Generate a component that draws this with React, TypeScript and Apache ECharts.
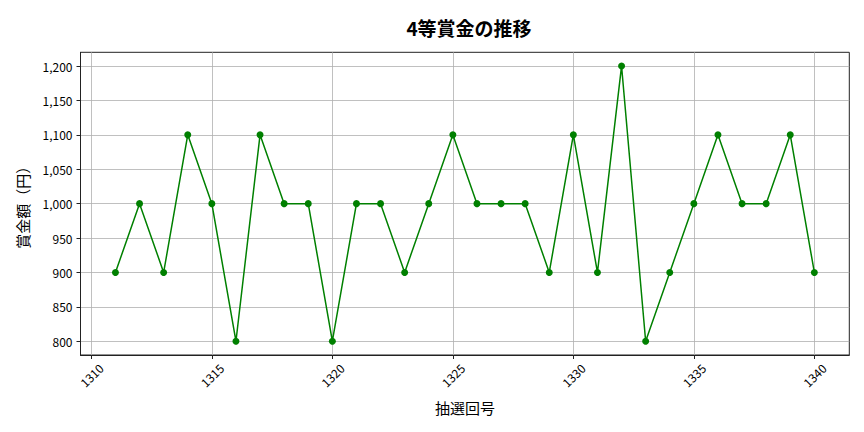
import React, { useEffect, useRef } from 'react';
import * as echarts from 'echarts';

const rounds = [
  1311, 1312, 1313, 1314, 1315, 1316, 1317, 1318, 1319, 1320,
  1321, 1322, 1323, 1324, 1325, 1326, 1327, 1328, 1329, 1330,
  1331, 1332, 1333, 1334, 1335, 1336, 1337, 1338, 1339, 1340,
];
const prizes = [
  900, 1000, 900, 1100, 1000, 800, 1100, 1000, 1000, 800,
  1000, 1000, 900, 1000, 1100, 1000, 1000, 1000, 900, 1100,
  900, 1200, 800, 900, 1000, 1100, 1000, 1000, 1100, 900,
];
const xTicks = [1310, 1315, 1320, 1325, 1330, 1335, 1340];
const yTicks = [800, 850, 900, 950, 1000, 1050, 1100, 1150, 1200];

const FONT = '"Noto Sans CJK JP", "Noto Sans", sans-serif';

const App: React.FC = () => {
  const chartRef = useRef<HTMLDivElement>(null);

  useEffect(() => {
    if (!chartRef.current) return;
    const chart = echarts.init(chartRef.current, undefined, { renderer: 'svg' });

    // matplotlib-like 5% margins around the data
    const xSpan = rounds[rounds.length - 1] - rounds[0];
    const yMinV = Math.min(...prizes);
    const yMaxV = Math.max(...prizes);
    const ySpan = yMaxV - yMinV;

    const option: echarts.EChartsOption = {
      animation: false,
      backgroundColor: '#ffffff',
      textStyle: { fontFamily: FONT },
      title: {
        text: '4等賞金の推移',
        left: 464,
        top: 13,
        textAlign: 'center',
        textStyle: { fontSize: 19, fontWeight: 'bold', color: '#000', fontFamily: FONT },
      },
      grid: {
        left: 80.5,
        right: 14.7,
        top: 52.3,
        bottom: 77,
        show: true,
        borderColor: '#222',
        borderWidth: 1,
        backgroundColor: 'transparent',
      },
      xAxis: {
        type: 'value',
        min: rounds[0] - xSpan * 0.05,
        max: rounds[rounds.length - 1] + xSpan * 0.05,
        name: '抽選回号',
        nameLocation: 'middle',
        nameGap: 45,
        nameTextStyle: { fontSize: 15, color: '#000', fontFamily: FONT },
        axisLine: { show: true, lineStyle: { color: '#222', width: 1 } },
        axisTick: {
          show: true,
          length: 4,
          lineStyle: { color: '#222' },
          customValues: xTicks,
        },
        axisLabel: {
          customValues: xTicks,
          rotate: 45,
          align: 'center',
          verticalAlign: 'middle',
          margin: 20,
          fontSize: 12,
          color: '#000',
          fontFamily: FONT,
          formatter: (v: number) => String(v),
        },
        splitLine: { show: true, lineStyle: { color: '#b0b0b0', width: 0.8 } },
      },
      yAxis: {
        type: 'value',
        min: yMinV - ySpan * 0.05,
        max: yMaxV + ySpan * 0.05,
        name: '賞金額（円）',
        nameLocation: 'middle',
        nameGap: 51,
        nameTextStyle: { fontSize: 15, color: '#000', fontFamily: FONT },
        axisLine: { show: true, lineStyle: { color: '#222', width: 1 } },
        axisTick: {
          show: true,
          length: 4,
          lineStyle: { color: '#222' },
          customValues: yTicks,
        },
        axisLabel: {
          customValues: yTicks,
          margin: 8,
          fontSize: 12,
          color: '#000',
          fontFamily: FONT,
          formatter: (v: number) => v.toLocaleString('en-US'),
        },
        splitLine: { show: true, lineStyle: { color: '#b0b0b0', width: 0.8 } },
      },
      series: [
        {
          type: 'line',
          data: rounds.map((r, i) => [r, prizes[i]]),
          symbol: 'circle',
          symbolSize: 7,
          showAllSymbol: true,
          lineStyle: { color: '#008000', width: 1.5 },
          itemStyle: { color: '#008000' },
        },
      ],
    };

    chart.setOption(option);

    const handleResize = () => chart.resize();
    window.addEventListener('resize', handleResize);
    return () => {
      window.removeEventListener('resize', handleResize);
      chart.dispose();
    };
  }, []);

  return (
    <div
      ref={chartRef}
      style={{ position: 'fixed', left: 0, top: 0, width: '864px', height: '432px' }}
    />
  );
};

export default App;
